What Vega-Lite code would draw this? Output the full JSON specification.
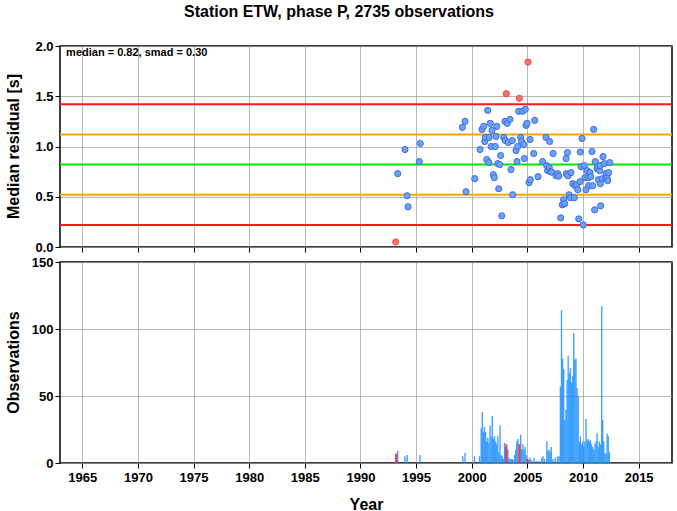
{
  "$schema": "https://vega.github.io/schema/vega-lite/v6.json",
  "padding": {"left": 4, "top": 4, "right": 6, "bottom": 2},
  "title": {"text": "Station ETW, phase P, 2735 observations", "offset": 19, "anchor": "middle"},
  "resolve": {"scale": {"color": "independent", "fill": "independent", "stroke": "independent", "strokeWidth": "independent"}},
  "config": {
    "font": "Liberation Sans",
    "view": {"stroke": "#000", "strokeWidth": 1.5},
    "axis": {"labelFont": "Liberation Sans", "labelFontSize": 13, "labelFontWeight": "bold", "labelColor": "#000", "titleFont": "Liberation Sans", "titleFontSize": 16, "titleFontWeight": "bold", "titleColor": "#000", "tickColor": "#000", "tickSize": 5, "tickWidth": 1, "domain": false, "gridColor": "#999", "gridWidth": 0.7, "gridOpacity": 1, "labelPadding": 2},
    "title": {"font": "Liberation Sans", "fontSize": 16, "fontWeight": "bold", "color": "#000"}
  },
  "datasets": {
    "levels": [
      {"level": 0.22, "kind": "red"},
      {"level": 0.52, "kind": "orange"},
      {"level": 0.82, "kind": "green"},
      {"level": 1.12, "kind": "orange"},
      {"level": 1.42, "kind": "red"}
    ],
    "points": [
      {"year": 1993.17, "resid": 0.05, "status": "outlier"},
      {"year": 2003.11, "resid": 1.525, "status": "outlier"},
      {"year": 2004.28, "resid": 1.48, "status": "outlier"},
      {"year": 2005.06, "resid": 1.84, "status": "outlier"},
      {"year": 1993.35, "resid": 0.73, "status": "normal"},
      {"year": 1994.0, "resid": 0.97, "status": "normal"},
      {"year": 1994.19, "resid": 0.51, "status": "normal"},
      {"year": 1994.28, "resid": 0.40, "status": "normal"},
      {"year": 1995.29, "resid": 0.85, "status": "normal"},
      {"year": 1995.38, "resid": 1.03, "status": "normal"},
      {"year": 1999.16, "resid": 1.19, "status": "normal"},
      {"year": 1999.4, "resid": 1.25, "status": "normal"},
      {"year": 1999.49, "resid": 0.55, "status": "normal"},
      {"year": 2000.27, "resid": 0.68, "status": "normal"},
      {"year": 2000.75, "resid": 0.97, "status": "normal"},
      {"year": 2000.93, "resid": 1.17, "status": "normal"},
      {"year": 2001.08, "resid": 1.20, "status": "normal"},
      {"year": 2001.17, "resid": 1.05, "status": "normal"},
      {"year": 2001.22, "resid": 1.09, "status": "normal"},
      {"year": 2001.35, "resid": 0.87, "status": "normal"},
      {"year": 2001.44, "resid": 1.36, "status": "normal"},
      {"year": 2001.53, "resid": 0.84, "status": "normal"},
      {"year": 2001.56, "resid": 1.09, "status": "normal"},
      {"year": 2001.67, "resid": 1.23, "status": "normal"},
      {"year": 2001.76, "resid": 1.00, "status": "normal"},
      {"year": 2001.82, "resid": 1.16, "status": "normal"},
      {"year": 2001.94, "resid": 0.72, "status": "normal"},
      {"year": 2002.03, "resid": 0.69, "status": "normal"},
      {"year": 2002.12, "resid": 1.00, "status": "normal"},
      {"year": 2002.18, "resid": 1.10, "status": "normal"},
      {"year": 2002.25, "resid": 1.20, "status": "normal"},
      {"year": 2002.34, "resid": 0.83, "status": "normal"},
      {"year": 2002.43, "resid": 0.58, "status": "normal"},
      {"year": 2002.52, "resid": 0.82, "status": "normal"},
      {"year": 2002.6, "resid": 0.91, "status": "normal"},
      {"year": 2002.7, "resid": 0.31, "status": "normal"},
      {"year": 2002.88, "resid": 1.09, "status": "normal"},
      {"year": 2002.99, "resid": 1.25, "status": "normal"},
      {"year": 2003.02, "resid": 1.06, "status": "normal"},
      {"year": 2003.2, "resid": 1.23, "status": "normal"},
      {"year": 2003.29, "resid": 1.04, "status": "normal"},
      {"year": 2003.44, "resid": 1.27, "status": "normal"},
      {"year": 2003.53, "resid": 0.77, "status": "normal"},
      {"year": 2003.65, "resid": 1.06, "status": "normal"},
      {"year": 2003.68, "resid": 0.52, "status": "normal"},
      {"year": 2003.98, "resid": 0.96, "status": "normal"},
      {"year": 2004.07, "resid": 0.85, "status": "normal"},
      {"year": 2004.13, "resid": 1.00, "status": "normal"},
      {"year": 2004.22, "resid": 1.35, "status": "normal"},
      {"year": 2004.4, "resid": 1.09, "status": "normal"},
      {"year": 2004.49, "resid": 1.05, "status": "normal"},
      {"year": 2004.58, "resid": 1.35, "status": "normal"},
      {"year": 2004.67, "resid": 1.02, "status": "normal"},
      {"year": 2004.73, "resid": 0.88, "status": "normal"},
      {"year": 2004.82, "resid": 1.37, "status": "normal"},
      {"year": 2004.88, "resid": 1.21, "status": "normal"},
      {"year": 2004.97, "resid": 1.23, "status": "normal"},
      {"year": 2005.15, "resid": 0.64, "status": "normal"},
      {"year": 2005.24, "resid": 1.07, "status": "normal"},
      {"year": 2005.27, "resid": 0.67, "status": "normal"},
      {"year": 2005.57, "resid": 0.93, "status": "normal"},
      {"year": 2005.66, "resid": 1.26, "status": "normal"},
      {"year": 2005.96, "resid": 0.70, "status": "normal"},
      {"year": 2006.37, "resid": 0.85, "status": "normal"},
      {"year": 2006.68, "resid": 1.09, "status": "normal"},
      {"year": 2006.74, "resid": 0.81, "status": "normal"},
      {"year": 2006.82, "resid": 0.76, "status": "normal"},
      {"year": 2006.97, "resid": 0.79, "status": "normal"},
      {"year": 2007.0, "resid": 1.05, "status": "normal"},
      {"year": 2007.06, "resid": 0.75, "status": "normal"},
      {"year": 2007.19, "resid": 0.745, "status": "normal"},
      {"year": 2007.31, "resid": 0.93, "status": "normal"},
      {"year": 2007.57, "resid": 0.71, "status": "normal"},
      {"year": 2007.72, "resid": 0.73, "status": "normal"},
      {"year": 2007.82, "resid": 0.705, "status": "normal"},
      {"year": 2008.0, "resid": 0.29, "status": "normal"},
      {"year": 2008.14, "resid": 0.42, "status": "normal"},
      {"year": 2008.26, "resid": 0.47, "status": "normal"},
      {"year": 2008.36, "resid": 0.43, "status": "normal"},
      {"year": 2008.48, "resid": 0.88, "status": "normal"},
      {"year": 2008.5, "resid": 0.73, "status": "normal"},
      {"year": 2008.6, "resid": 0.94, "status": "normal"},
      {"year": 2008.65, "resid": 0.71, "status": "normal"},
      {"year": 2008.75, "resid": 0.52, "status": "normal"},
      {"year": 2008.87, "resid": 0.49, "status": "normal"},
      {"year": 2008.92, "resid": 0.74, "status": "normal"},
      {"year": 2009.08, "resid": 0.63, "status": "normal"},
      {"year": 2009.22, "resid": 0.49, "status": "normal"},
      {"year": 2009.28, "resid": 0.61, "status": "normal"},
      {"year": 2009.44, "resid": 0.62, "status": "normal"},
      {"year": 2009.53, "resid": 0.57, "status": "normal"},
      {"year": 2009.62, "resid": 0.28, "status": "normal"},
      {"year": 2009.74, "resid": 0.65, "status": "normal"},
      {"year": 2009.76, "resid": 0.945, "status": "normal"},
      {"year": 2009.82, "resid": 0.80, "status": "normal"},
      {"year": 2009.91, "resid": 1.08, "status": "normal"},
      {"year": 2010.03, "resid": 0.22, "status": "normal"},
      {"year": 2010.12, "resid": 0.81, "status": "normal"},
      {"year": 2010.18, "resid": 0.69, "status": "normal"},
      {"year": 2010.27, "resid": 0.57, "status": "normal"},
      {"year": 2010.36, "resid": 0.76, "status": "normal"},
      {"year": 2010.48, "resid": 0.69, "status": "normal"},
      {"year": 2010.51, "resid": 0.61, "status": "normal"},
      {"year": 2010.63, "resid": 0.74, "status": "normal"},
      {"year": 2010.69, "resid": 0.70, "status": "normal"},
      {"year": 2010.81, "resid": 0.95, "status": "normal"},
      {"year": 2010.87, "resid": 0.61, "status": "normal"},
      {"year": 2010.96, "resid": 1.17, "status": "normal"},
      {"year": 2011.05, "resid": 0.37, "status": "normal"},
      {"year": 2011.11, "resid": 0.85, "status": "normal"},
      {"year": 2011.26, "resid": 0.78, "status": "normal"},
      {"year": 2011.32, "resid": 0.80, "status": "normal"},
      {"year": 2011.38, "resid": 0.67, "status": "normal"},
      {"year": 2011.5, "resid": 0.76, "status": "normal"},
      {"year": 2011.53, "resid": 0.81, "status": "normal"},
      {"year": 2011.56, "resid": 0.63, "status": "normal"},
      {"year": 2011.59, "resid": 0.41, "status": "normal"},
      {"year": 2011.74, "resid": 0.68, "status": "normal"},
      {"year": 2011.8, "resid": 0.90, "status": "normal"},
      {"year": 2011.92, "resid": 0.83, "status": "normal"},
      {"year": 2012.04, "resid": 0.68, "status": "normal"},
      {"year": 2012.07, "resid": 0.73, "status": "normal"},
      {"year": 2012.16, "resid": 0.69, "status": "normal"},
      {"year": 2012.22, "resid": 0.66, "status": "normal"},
      {"year": 2012.31, "resid": 0.74, "status": "normal"},
      {"year": 2012.4, "resid": 0.84, "status": "normal"}
    ],
    "bars": [
      {"year": 1993.35, "count": 9, "status": "normal"},
      {"year": 1994.0, "count": 5, "status": "normal"},
      {"year": 1994.2, "count": 6, "status": "normal"},
      {"year": 1995.35, "count": 6, "status": "normal"},
      {"year": 1999.2, "count": 5, "status": "normal"},
      {"year": 1999.4, "count": 7.5, "status": "normal"},
      {"year": 2000.25, "count": 5, "status": "normal"},
      {"year": 2000.7, "count": 5, "status": "normal"},
      {"year": 2000.85, "count": 26, "status": "normal"},
      {"year": 2000.95, "count": 38, "status": "normal"},
      {"year": 2001.05, "count": 23, "status": "normal"},
      {"year": 2001.15, "count": 27, "status": "normal"},
      {"year": 2001.25, "count": 23, "status": "normal"},
      {"year": 2001.35, "count": 16, "status": "normal"},
      {"year": 2001.45, "count": 19, "status": "normal"},
      {"year": 2001.55, "count": 15, "status": "normal"},
      {"year": 2001.65, "count": 28, "status": "normal"},
      {"year": 2001.75, "count": 20, "status": "normal"},
      {"year": 2001.85, "count": 35, "status": "normal"},
      {"year": 2001.95, "count": 18, "status": "normal"},
      {"year": 2002.05, "count": 20, "status": "normal"},
      {"year": 2002.15, "count": 16, "status": "normal"},
      {"year": 2002.25, "count": 14, "status": "normal"},
      {"year": 2002.35, "count": 20, "status": "normal"},
      {"year": 2002.45, "count": 8, "status": "normal"},
      {"year": 2002.55, "count": 28, "status": "normal"},
      {"year": 2002.65, "count": 6, "status": "normal"},
      {"year": 2002.75, "count": 5, "status": "normal"},
      {"year": 2002.85, "count": 3, "status": "normal"},
      {"year": 2002.95, "count": 15, "status": "normal"},
      {"year": 2003.03, "count": 12, "status": "normal"},
      {"year": 2003.25, "count": 10, "status": "normal"},
      {"year": 2003.35, "count": 4, "status": "normal"},
      {"year": 2003.45, "count": 3, "status": "normal"},
      {"year": 2003.55, "count": 3, "status": "normal"},
      {"year": 2003.65, "count": 3, "status": "normal"},
      {"year": 2003.75, "count": 2, "status": "normal"},
      {"year": 2003.85, "count": 6, "status": "normal"},
      {"year": 2003.95, "count": 10, "status": "normal"},
      {"year": 2004.05, "count": 16, "status": "normal"},
      {"year": 2004.15, "count": 18, "status": "normal"},
      {"year": 2004.4, "count": 21, "status": "normal"},
      {"year": 2004.5, "count": 10, "status": "normal"},
      {"year": 2004.6, "count": 14, "status": "normal"},
      {"year": 2004.7, "count": 10, "status": "normal"},
      {"year": 2004.8, "count": 12, "status": "normal"},
      {"year": 2004.9, "count": 6, "status": "normal"},
      {"year": 2005.15, "count": 2, "status": "normal"},
      {"year": 2005.25, "count": 4, "status": "normal"},
      {"year": 2005.4, "count": 2, "status": "normal"},
      {"year": 2005.6, "count": 4, "status": "normal"},
      {"year": 2005.8, "count": 1.5, "status": "normal"},
      {"year": 2006.05, "count": 1.5, "status": "normal"},
      {"year": 2006.3, "count": 4, "status": "normal"},
      {"year": 2006.4, "count": 5, "status": "normal"},
      {"year": 2006.55, "count": 3, "status": "normal"},
      {"year": 2006.75, "count": 16, "status": "normal"},
      {"year": 2006.85, "count": 9, "status": "normal"},
      {"year": 2006.95, "count": 10, "status": "normal"},
      {"year": 2007.05, "count": 8, "status": "normal"},
      {"year": 2007.15, "count": 12, "status": "normal"},
      {"year": 2007.3, "count": 3, "status": "normal"},
      {"year": 2007.5, "count": 4, "status": "normal"},
      {"year": 2007.7, "count": 5, "status": "normal"},
      {"year": 2007.85, "count": 5, "status": "normal"},
      {"year": 2007.97, "count": 57, "status": "normal"},
      {"year": 2008.07, "count": 114, "status": "normal"},
      {"year": 2008.17, "count": 78, "status": "normal"},
      {"year": 2008.27, "count": 70, "status": "normal"},
      {"year": 2008.37, "count": 32, "status": "normal"},
      {"year": 2008.47, "count": 40, "status": "normal"},
      {"year": 2008.57, "count": 62, "status": "normal"},
      {"year": 2008.67, "count": 80, "status": "normal"},
      {"year": 2008.77, "count": 67, "status": "normal"},
      {"year": 2008.87, "count": 71, "status": "normal"},
      {"year": 2008.97, "count": 60, "status": "normal"},
      {"year": 2009.07, "count": 65, "status": "normal"},
      {"year": 2009.17, "count": 97, "status": "normal"},
      {"year": 2009.27, "count": 77, "status": "normal"},
      {"year": 2009.37, "count": 78, "status": "normal"},
      {"year": 2009.47, "count": 56, "status": "normal"},
      {"year": 2009.57, "count": 50, "status": "normal"},
      {"year": 2009.67, "count": 16, "status": "normal"},
      {"year": 2009.77, "count": 20, "status": "normal"},
      {"year": 2009.87, "count": 14, "status": "normal"},
      {"year": 2009.97, "count": 16, "status": "normal"},
      {"year": 2010.07, "count": 12, "status": "normal"},
      {"year": 2010.17, "count": 16, "status": "normal"},
      {"year": 2010.27, "count": 33, "status": "normal"},
      {"year": 2010.37, "count": 17, "status": "normal"},
      {"year": 2010.47, "count": 18, "status": "normal"},
      {"year": 2010.57, "count": 16, "status": "normal"},
      {"year": 2010.67, "count": 17, "status": "normal"},
      {"year": 2010.77, "count": 14, "status": "normal"},
      {"year": 2010.87, "count": 12, "status": "normal"},
      {"year": 2010.97, "count": 10, "status": "normal"},
      {"year": 2011.07, "count": 14, "status": "normal"},
      {"year": 2011.17, "count": 16, "status": "normal"},
      {"year": 2011.27, "count": 22, "status": "normal"},
      {"year": 2011.37, "count": 12, "status": "normal"},
      {"year": 2011.47, "count": 16, "status": "normal"},
      {"year": 2011.57, "count": 14, "status": "normal"},
      {"year": 2011.68, "count": 117, "status": "normal"},
      {"year": 2011.77, "count": 32, "status": "normal"},
      {"year": 2011.87, "count": 16, "status": "normal"},
      {"year": 2011.97, "count": 7, "status": "normal"},
      {"year": 2012.07, "count": 7, "status": "normal"},
      {"year": 2012.17, "count": 22, "status": "normal"},
      {"year": 2012.27, "count": 20, "status": "normal"},
      {"year": 2012.37, "count": 8, "status": "normal"},
      {"year": 1993.2, "count": 7, "status": "outlier"},
      {"year": 2003.12, "count": 14, "status": "outlier"},
      {"year": 2004.28, "count": 14, "status": "outlier"},
      {"year": 2005.03, "count": 3, "status": "outlier"}
    ]
  },
  "spacing": 0,
  "vconcat": [
    {
      "width": 612,
      "height": 201,
      "layer": [
        {
          "data": {"name": "levels"},
          "mark": {"type": "rule"},
          "encoding": {
            "y": {"field": "level", "type": "quantitative"},
            "color": {"field": "kind", "type": "nominal", "scale": {"domain": ["red", "orange", "green"], "range": ["#FF1A1A", "#FFA500", "#00E600"]}, "legend": null},
            "strokeWidth": {"field": "kind", "type": "nominal", "scale": {"domain": ["red", "orange", "green"], "range": [2, 2, 3.5]}, "legend": null}
          }
        },
        {
          "data": {"name": "points"},
          "mark": {"type": "circle", "size": 38, "opacity": 1, "strokeWidth": 1},
          "encoding": {
            "x": {"field": "year", "type": "quantitative", "scale": {"domain": [1963, 2018], "nice": false, "zero": false}, "axis": {"values": [1965, 1970, 1975, 1980, 1985, 1990, 1995, 2000, 2005, 2010, 2015], "labels": false, "title": null, "grid": true}},
            "y": {"field": "resid", "type": "quantitative", "scale": {"domain": [0, 2], "nice": false}, "axis": {"values": [0, 0.5, 1, 1.5, 2], "format": ".1f", "title": "Median residual [s]", "titleX": -47, "titleY": 100, "titleBaseline": "middle", "grid": true}},
            "fill": {"field": "status", "type": "nominal", "scale": {"domain": ["normal", "outlier"], "range": ["#6EA2F5", "#F4756B"]}, "legend": null},
            "stroke": {"field": "status", "type": "nominal", "scale": {"domain": ["normal", "outlier"], "range": ["#3A6BE8", "#E84A3C"]}, "legend": null}
          }
        },
        {
          "data": {"values": [{}]},
          "mark": {"type": "text", "align": "left", "baseline": "middle", "fontSize": 11, "fontWeight": "bold", "font": "Liberation Sans", "color": "#000", "text": "median = 0.82, smad = 0.30"},
          "encoding": {
            "x": {"datum": 1963.55, "type": "quantitative"},
            "y": {"datum": 1.93, "type": "quantitative"}
          }
        }
      ]
    },
    {
      "width": 612,
      "height": 201,
      "data": {"name": "bars"},
      "mark": {"type": "rule", "opacity": 0.85},
      "encoding": {
        "x": {"field": "year", "type": "quantitative", "scale": {"domain": [1963, 2018], "nice": false, "zero": false}, "axis": {"values": [1965, 1970, 1975, 1980, 1985, 1990, 1995, 2000, 2005, 2010, 2015], "format": "d", "title": "Year", "titlePadding": 12, "labelPadding": 3, "grid": true}},
        "y": {"field": "count", "type": "quantitative", "scale": {"domain": [0, 150], "nice": false}, "axis": {"values": [0, 50, 100, 150], "title": "Observations", "titleX": -47, "titleY": 100, "titleBaseline": "middle", "grid": true}},
        "y2": {"datum": 0},
        "color": {"field": "status", "type": "nominal", "scale": {"domain": ["normal", "outlier"], "range": ["#1E90FF", "#FF1A1A"]}, "legend": null},
        "strokeWidth": {"field": "status", "type": "nominal", "scale": {"domain": ["normal", "outlier"], "range": [1.4, 2]}, "legend": null}
      }
    }
  ]
}
